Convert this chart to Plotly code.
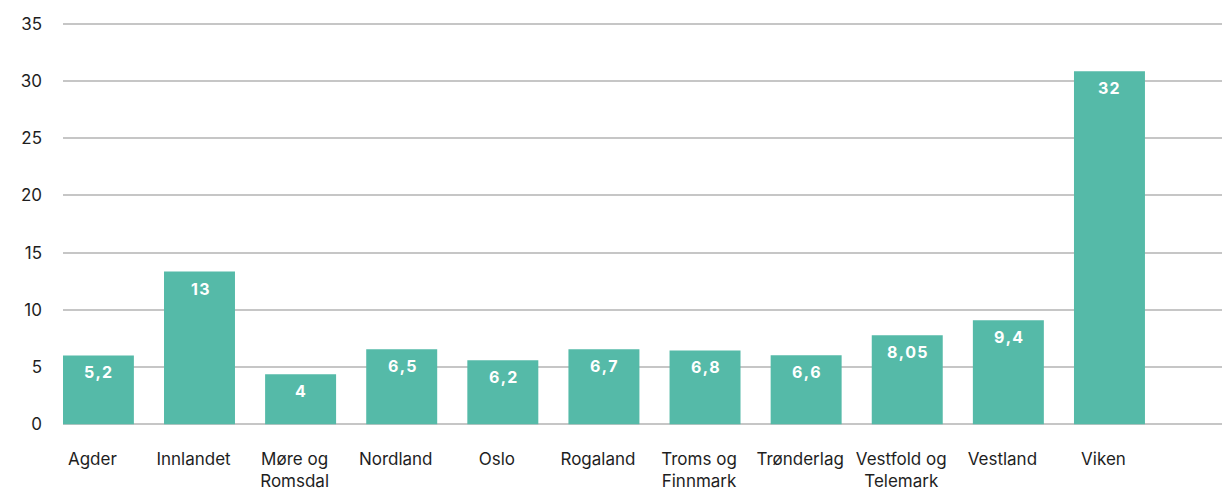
import plotly.graph_objects as go

# regions (x axis), bar heights as drawn, and the printed value labels
regions = [
    "Agder",
    "Innlandet",
    "Møre og<br>Romsdal",
    "Nordland",
    "Oslo",
    "Rogaland",
    "Troms og<br>Finnmark",
    "Trønderlag",
    "Vestfold og<br>Telemark",
    "Vestland",
    "Viken",
]
heights = [6.02, 13.35, 4.37, 6.55, 5.6, 6.55, 6.45, 6.03, 7.77, 9.08, 30.85]
value_labels = ["5,2", "13", "4", "6,5", "6,2", "6,7", "6,8", "6,6", "8,05", "9,4", "32"]
y_ticks = [0, 5, 10, 15, 20, 25, 30, 35]

bar_color = "#55BAA8"
font_family = "Inter, 'Open Sans', sans-serif"

fig = go.Figure(
    go.Bar(
        x=regions,
        y=heights,
        marker=dict(color=bar_color, line=dict(width=0)),
        hoverinfo="skip",
    )
)

# white value labels just inside the top of each bar (slightly tracked)
for reg, h, lab in zip(regions, heights, value_labels):
    fig.add_annotation(
        x=reg,
        y=h,
        text="\u200a".join(lab),
        showarrow=False,
        yanchor="top",
        yshift=-5,
        font=dict(color="white", size=16, family=font_family, weight="bold"),
    )

# the page body keeps an 8px margin, so the figure is fitted inside it
fig.update_layout(
    autosize=False,
    width=1214,
    height=481,
    margin=dict(l=55.3, r=0, t=14.3, b=63.3, autoexpand=False),
    plot_bgcolor="white",
    paper_bgcolor="white",
    bargap=0.298,
    showlegend=False,
    font=dict(family=font_family, size=17, color="#1e1e1e"),
)

fig.update_xaxes(
    type="category",
    range=[-0.35, 11.113],
    showgrid=False,
    showline=False,
    ticks="",
    automargin=False,
    ticklabelstandoff=21,
    ticklabelshift=-6,
)
fig.update_yaxes(
    range=[-0.15, 35.15],
    tickvals=y_ticks,
    showgrid=True,
    gridcolor="#c6c6c6",
    gridwidth=1.5,
    zeroline=True,
    zerolinecolor="#c6c6c6",
    zerolinewidth=1.5,
    showline=False,
    ticks="",
    automargin=False,
    ticklabelstandoff=20,
)

fig.write_html("out.html")
